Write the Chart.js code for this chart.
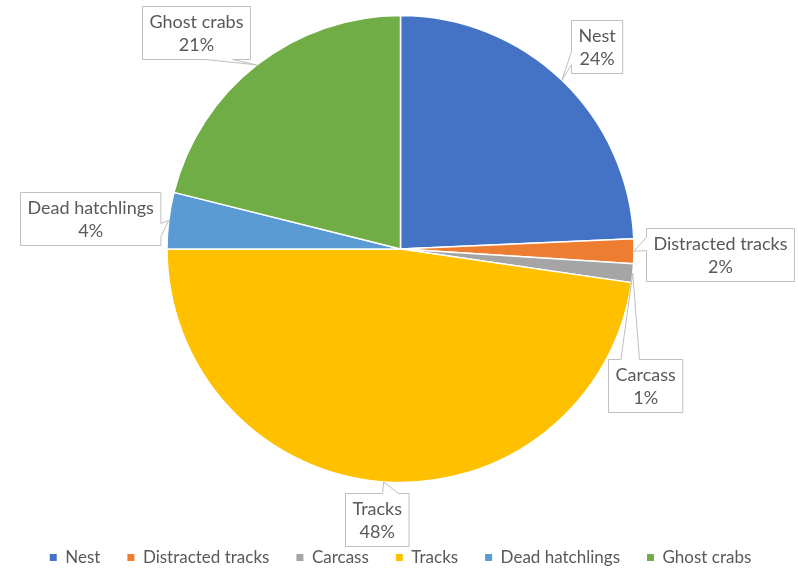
<!DOCTYPE html>
<html>
<head>
<meta charset="utf-8">
<script src="https://cdn.jsdelivr.net/npm/chart.js@4/dist/chart.umd.min.js"></script>
<style>
  html, body { margin: 0; padding: 0; background: #fff; overflow: hidden; }
  body { width: 798px; height: 571px; position: relative; }
  #wrap { position: absolute; left: 0; top: -24px; width: 798px; height: 600px; }
</style>
</head>
<body>
<div id="wrap"><canvas id="pie"></canvas></div>
<script>
var categories = ['Nest', 'Distracted tracks', 'Carcass', 'Tracks', 'Dead hatchlings', 'Ghost crabs'];
var shares = [24.3, 1.7, 1.3, 47.7, 3.9, 21.1];
var colors = ['#4472C4', '#ED7D31', '#A5A5A5', '#FFC000', '#5B9BD5', '#70AD47'];

// Where each callout box sits, as offset of its centre from the pie centre (layout only)
var calloutOffsets = [[196, -203], [319, 5], [245, 136], [-24, 270], [-310, -31], [-205, -217]];

var FONT = 'Lato, "Open Sans", sans-serif';
var TEXT = '#595959';

// Excel-style wedgeRectCallout outline
function calloutPath(ctx, l, t, w, h, tx, ty) {
  var hc = l + w / 2, vc = t + h / 2;
  var dxPos = tx - hc, dyPos = ty - vc;
  var horiz = Math.abs(dxPos * h / w) > Math.abs(dyPos);
  var x1 = l + w * (dxPos > 0 ? 7 : 2) / 12, x2 = l + w * (dxPos > 0 ? 10 : 5) / 12;
  var y1 = t + h * (dyPos > 0 ? 7 : 2) / 12, y2 = t + h * (dyPos > 0 ? 10 : 5) / 12;
  ctx.beginPath();
  ctx.moveTo(l, t);
  if (!horiz && dyPos < 0) { ctx.lineTo(x1, t); ctx.lineTo(tx, ty); ctx.lineTo(x2, t); }
  ctx.lineTo(l + w, t);
  if (horiz && dxPos > 0) { ctx.lineTo(l + w, y1); ctx.lineTo(tx, ty); ctx.lineTo(l + w, y2); }
  ctx.lineTo(l + w, t + h);
  if (!horiz && dyPos > 0) { ctx.lineTo(x2, t + h); ctx.lineTo(tx, ty); ctx.lineTo(x1, t + h); }
  ctx.lineTo(l, t + h);
  if (horiz && dxPos < 0) { ctx.lineTo(l, y2); ctx.lineTo(tx, ty); ctx.lineTo(l, y1); }
  ctx.closePath();
}

var calloutPlugin = {
  id: 'callouts',
  afterDatasetsDraw: function (chart) {
    var ctx = chart.ctx;
    var meta = chart.getDatasetMeta(0);
    var data = chart.data.datasets[0].data;
    var total = data.reduce(function (a, b) { return a + b; }, 0);
    ctx.save();
    ctx.font = '18px ' + FONT;
    meta.data.forEach(function (arc, i) {
      var p = arc.getProps(['x', 'y', 'startAngle', 'endAngle', 'outerRadius'], true);
      var mid = (p.startAngle + p.endAngle) / 2;
      var tx = p.x + Math.cos(mid) * p.outerRadius;
      var ty = p.y + Math.sin(mid) * p.outerRadius;
      var line1 = chart.data.labels[i];
      var line2 = Math.round(data[i] / total * 100) + '%';
      var w = Math.max(ctx.measureText(line1).width, ctx.measureText(line2).width) + 14;
      var h = 53;
      var cx = p.x + calloutOffsets[i][0], cy = p.y + calloutOffsets[i][1];
      var l = Math.round(cx - w / 2) + 0.5, t = Math.round(cy - h / 2) + 0.5;
      calloutPath(ctx, l, t, w, h, tx, ty);
      ctx.fillStyle = '#ffffff';
      ctx.fill();
      ctx.strokeStyle = '#bfbfbf';
      ctx.lineWidth = 1;
      ctx.stroke();
      ctx.fillStyle = TEXT;
      ctx.textAlign = 'center';
      ctx.textBaseline = 'middle';
      ctx.fillText(line1, l + w / 2, t + h / 2 - 11);
      ctx.fillText(line2, l + w / 2, t + h / 2 + 12);
    });
    ctx.restore();
  }
};

new Chart(document.getElementById('pie'), {
  type: 'pie',
  data: {
    labels: categories,
    datasets: [{
      data: shares,
      backgroundColor: colors,
      borderColor: '#ffffff',
      borderWidth: 1.5
    }]
  },
  plugins: [calloutPlugin],
  options: {
    responsive: true,
    maintainAspectRatio: false,
    animation: false,
    events: [],
    radius: 233.5,
    layout: { padding: { left: 3 } },
    plugins: {
      tooltip: { enabled: false },
      legend: {
        position: 'bottom',
        labels: {
          boxWidth: 7,
          boxHeight: 7,
          padding: 27,
          color: TEXT,
          font: { family: FONT, size: 17 },
          generateLabels: function (chart) {
            var ds = chart.data.datasets[0];
            return chart.data.labels.map(function (lab, i) {
              return { text: lab, fillStyle: ds.backgroundColor[i], strokeStyle: ds.backgroundColor[i],
                       lineWidth: 0, fontColor: TEXT, hidden: false, index: i };
            });
          }
        }
      }
    }
  }
});
</script>
</body>
</html>
